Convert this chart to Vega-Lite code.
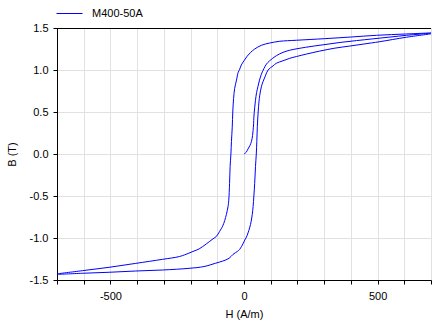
{
  "$schema": "https://vega.github.io/schema/vega-lite/v6.json",
  "width": 374,
  "height": 252,
  "autosize": {"type": "none"},
  "padding": {"left": 57, "top": 28, "right": 5, "bottom": 43},
  "background": "white",
  "config": {
    "view": {"stroke": null},
    "font": "Liberation Sans",
    "axis": {
      "labelFont": "Liberation Sans", "labelFontSize": 11, "labelColor": "#000000",
      "titleFont": "Liberation Sans", "titleFontSize": 11, "titleFontWeight": "normal", "titleColor": "#000000",
      "domainColor": "#000000", "tickColor": "#000000", "tickSize": 4,
      "gridColor": "#e1e1e1", "gridWidth": 1
    },
    "legend": {"labelFont": "Liberation Sans", "labelFontSize": 11, "labelColor": "#000000"}
  },
  "data": {"values": [
    {"i": 0, "H": 0, "B": 0, "series": "M400-50A"},
    {"i": 1, "H": 8, "B": 0.02, "series": "M400-50A"},
    {"i": 2, "H": 15, "B": 0.06, "series": "M400-50A"},
    {"i": 3, "H": 22, "B": 0.1, "series": "M400-50A"},
    {"i": 4, "H": 28, "B": 0.15, "series": "M400-50A"},
    {"i": 5, "H": 32, "B": 0.22, "series": "M400-50A"},
    {"i": 6, "H": 34, "B": 0.28, "series": "M400-50A"},
    {"i": 7, "H": 36, "B": 0.36, "series": "M400-50A"},
    {"i": 8, "H": 37, "B": 0.44, "series": "M400-50A"},
    {"i": 9, "H": 40, "B": 0.55, "series": "M400-50A"},
    {"i": 10, "H": 43, "B": 0.64, "series": "M400-50A"},
    {"i": 11, "H": 47, "B": 0.73, "series": "M400-50A"},
    {"i": 12, "H": 52, "B": 0.8, "series": "M400-50A"},
    {"i": 13, "H": 58, "B": 0.88, "series": "M400-50A"},
    {"i": 14, "H": 65, "B": 0.95, "series": "M400-50A"},
    {"i": 15, "H": 75, "B": 1.02, "series": "M400-50A"},
    {"i": 16, "H": 84, "B": 1.07, "series": "M400-50A"},
    {"i": 17, "H": 96, "B": 1.11, "series": "M400-50A"},
    {"i": 18, "H": 121, "B": 1.17, "series": "M400-50A"},
    {"i": 19, "H": 146, "B": 1.21, "series": "M400-50A"},
    {"i": 20, "H": 171, "B": 1.235, "series": "M400-50A"},
    {"i": 21, "H": 230, "B": 1.27, "series": "M400-50A"},
    {"i": 22, "H": 296, "B": 1.3, "series": "M400-50A"},
    {"i": 23, "H": 360, "B": 1.328, "series": "M400-50A"},
    {"i": 24, "H": 421, "B": 1.35, "series": "M400-50A"},
    {"i": 25, "H": 480, "B": 1.37, "series": "M400-50A"},
    {"i": 26, "H": 546, "B": 1.392, "series": "M400-50A"},
    {"i": 27, "H": 608, "B": 1.413, "series": "M400-50A"},
    {"i": 28, "H": 660, "B": 1.428, "series": "M400-50A"},
    {"i": 29, "H": 700, "B": 1.44, "series": "M400-50A"},
    {"i": 30, "H": 608, "B": 1.429, "series": "M400-50A"},
    {"i": 31, "H": 496, "B": 1.413, "series": "M400-50A"},
    {"i": 32, "H": 402, "B": 1.393, "series": "M400-50A"},
    {"i": 33, "H": 302, "B": 1.373, "series": "M400-50A"},
    {"i": 34, "H": 196, "B": 1.354, "series": "M400-50A"},
    {"i": 35, "H": 134, "B": 1.342, "series": "M400-50A"},
    {"i": 36, "H": 96, "B": 1.321, "series": "M400-50A"},
    {"i": 37, "H": 65, "B": 1.294, "series": "M400-50A"},
    {"i": 38, "H": 40, "B": 1.25, "series": "M400-50A"},
    {"i": 39, "H": 25, "B": 1.21, "series": "M400-50A"},
    {"i": 40, "H": 12, "B": 1.165, "series": "M400-50A"},
    {"i": 41, "H": 0, "B": 1.11, "series": "M400-50A"},
    {"i": 42, "H": -10, "B": 1.06, "series": "M400-50A"},
    {"i": 43, "H": -16, "B": 1.01, "series": "M400-50A"},
    {"i": 44, "H": -22, "B": 0.97, "series": "M400-50A"},
    {"i": 45, "H": -28, "B": 0.88, "series": "M400-50A"},
    {"i": 46, "H": -35, "B": 0.78, "series": "M400-50A"},
    {"i": 47, "H": -39, "B": 0.66, "series": "M400-50A"},
    {"i": 48, "H": -42, "B": 0.5, "series": "M400-50A"},
    {"i": 49, "H": -44, "B": 0.32, "series": "M400-50A"},
    {"i": 50, "H": -47, "B": 0.15, "series": "M400-50A"},
    {"i": 51, "H": -49, "B": 0.0, "series": "M400-50A"},
    {"i": 52, "H": -52, "B": -0.15, "series": "M400-50A"},
    {"i": 53, "H": -54, "B": -0.35, "series": "M400-50A"},
    {"i": 54, "H": -57, "B": -0.55, "series": "M400-50A"},
    {"i": 55, "H": -60, "B": -0.63, "series": "M400-50A"},
    {"i": 56, "H": -66, "B": -0.72, "series": "M400-50A"},
    {"i": 57, "H": -72, "B": -0.79, "series": "M400-50A"},
    {"i": 58, "H": -80, "B": -0.86, "series": "M400-50A"},
    {"i": 59, "H": -91, "B": -0.92, "series": "M400-50A"},
    {"i": 60, "H": -103, "B": -0.98, "series": "M400-50A"},
    {"i": 61, "H": -116, "B": -1.01, "series": "M400-50A"},
    {"i": 62, "H": -141, "B": -1.07, "series": "M400-50A"},
    {"i": 63, "H": -168, "B": -1.13, "series": "M400-50A"},
    {"i": 64, "H": -191, "B": -1.16, "series": "M400-50A"},
    {"i": 65, "H": -206, "B": -1.18, "series": "M400-50A"},
    {"i": 66, "H": -241, "B": -1.22, "series": "M400-50A"},
    {"i": 67, "H": -305, "B": -1.254, "series": "M400-50A"},
    {"i": 68, "H": -405, "B": -1.302, "series": "M400-50A"},
    {"i": 69, "H": -505, "B": -1.349, "series": "M400-50A"},
    {"i": 70, "H": -605, "B": -1.389, "series": "M400-50A"},
    {"i": 71, "H": -700, "B": -1.43, "series": "M400-50A"},
    {"i": 72, "H": -605, "B": -1.42, "series": "M400-50A"},
    {"i": 73, "H": -505, "B": -1.408, "series": "M400-50A"},
    {"i": 74, "H": -405, "B": -1.393, "series": "M400-50A"},
    {"i": 75, "H": -305, "B": -1.381, "series": "M400-50A"},
    {"i": 76, "H": -206, "B": -1.361, "series": "M400-50A"},
    {"i": 77, "H": -150, "B": -1.34, "series": "M400-50A"},
    {"i": 78, "H": -106, "B": -1.3, "series": "M400-50A"},
    {"i": 79, "H": -80, "B": -1.275, "series": "M400-50A"},
    {"i": 80, "H": -56, "B": -1.242, "series": "M400-50A"},
    {"i": 81, "H": -41, "B": -1.195, "series": "M400-50A"},
    {"i": 82, "H": -25, "B": -1.16, "series": "M400-50A"},
    {"i": 83, "H": -16, "B": -1.135, "series": "M400-50A"},
    {"i": 84, "H": -4, "B": -1.07, "series": "M400-50A"},
    {"i": 85, "H": 3, "B": -1.024, "series": "M400-50A"},
    {"i": 86, "H": 9, "B": -0.99, "series": "M400-50A"},
    {"i": 87, "H": 15, "B": -0.94, "series": "M400-50A"},
    {"i": 88, "H": 21, "B": -0.88, "series": "M400-50A"},
    {"i": 89, "H": 27, "B": -0.8, "series": "M400-50A"},
    {"i": 90, "H": 31, "B": -0.72, "series": "M400-50A"},
    {"i": 91, "H": 34, "B": -0.627, "series": "M400-50A"},
    {"i": 92, "H": 37, "B": -0.5, "series": "M400-50A"},
    {"i": 93, "H": 40, "B": -0.35, "series": "M400-50A"},
    {"i": 94, "H": 43, "B": -0.15, "series": "M400-50A"},
    {"i": 95, "H": 46, "B": 0.0, "series": "M400-50A"},
    {"i": 96, "H": 48, "B": 0.15, "series": "M400-50A"},
    {"i": 97, "H": 50, "B": 0.33, "series": "M400-50A"},
    {"i": 98, "H": 53, "B": 0.5, "series": "M400-50A"},
    {"i": 99, "H": 56, "B": 0.62, "series": "M400-50A"},
    {"i": 100, "H": 59, "B": 0.7, "series": "M400-50A"},
    {"i": 101, "H": 65, "B": 0.8, "series": "M400-50A"},
    {"i": 102, "H": 71, "B": 0.86, "series": "M400-50A"},
    {"i": 103, "H": 80, "B": 0.93, "series": "M400-50A"},
    {"i": 104, "H": 90, "B": 1.0, "series": "M400-50A"},
    {"i": 105, "H": 109, "B": 1.05, "series": "M400-50A"},
    {"i": 106, "H": 121, "B": 1.08, "series": "M400-50A"},
    {"i": 107, "H": 146, "B": 1.11, "series": "M400-50A"},
    {"i": 108, "H": 171, "B": 1.139, "series": "M400-50A"},
    {"i": 109, "H": 196, "B": 1.16, "series": "M400-50A"},
    {"i": 110, "H": 234, "B": 1.19, "series": "M400-50A"},
    {"i": 111, "H": 283, "B": 1.225, "series": "M400-50A"},
    {"i": 112, "H": 340, "B": 1.26, "series": "M400-50A"},
    {"i": 113, "H": 396, "B": 1.285, "series": "M400-50A"},
    {"i": 114, "H": 450, "B": 1.31, "series": "M400-50A"},
    {"i": 115, "H": 508, "B": 1.337, "series": "M400-50A"},
    {"i": 116, "H": 608, "B": 1.39, "series": "M400-50A"},
    {"i": 117, "H": 700, "B": 1.43, "series": "M400-50A"}
  ]},
  "layer": [
    {
      "mark": {"type": "line", "strokeWidth": 1, "clip": true, "interpolate": "catmull-rom"},
      "encoding": {
        "x": {
          "field": "H", "type": "quantitative",
          "scale": {"domain": [-700, 700], "nice": false, "zero": false},
          "axis": {
            "title": "H (A/m)",
            "values": [-700, -600, -500, -400, -300, -200, -100, 0, 100, 200, 300, 400, 500, 600, 700],
            "labelExpr": "datum.value % 500 === 0 ? toString(datum.value) : ''",
            "labelPadding": 6,
            "titlePadding": 7,
            "labelFlush": false
          }
        },
        "y": {
          "field": "B", "type": "quantitative",
          "scale": {"domain": [-1.5, 1.5], "nice": false, "zero": false},
          "axis": {
            "title": "B (T)",
            "values": [-1.5, -1.0, -0.5, 0, 0.5, 1.0, 1.5],
            "labelExpr": "replace(format(datum.value, '.1f'), '\u2212', '-')",
            "labelPadding": 5,
            "titlePadding": 12,
            "labelFlush": false
          }
        },
        "order": {"field": "i", "type": "quantitative"},
        "color": {
          "field": "series", "type": "nominal",
          "scale": {"domain": ["M400-50A"], "range": ["#0000ff"]},
          "legend": {
            "title": null,
            "orient": "none",
            "legendX": -1,
            "legendY": -28,
            "padding": 0,
            "symbolType": "stroke",
            "symbolSize": 676,
            "symbolStrokeWidth": 1,
            "labelOffset": 9
          }
        }
      }
    },
    {
      "mark": {"type": "rule", "color": "#000000", "strokeWidth": 1, "yOffset": 0.5},
      "encoding": {"y": {"datum": 1.5}}
    }
  ]
}
